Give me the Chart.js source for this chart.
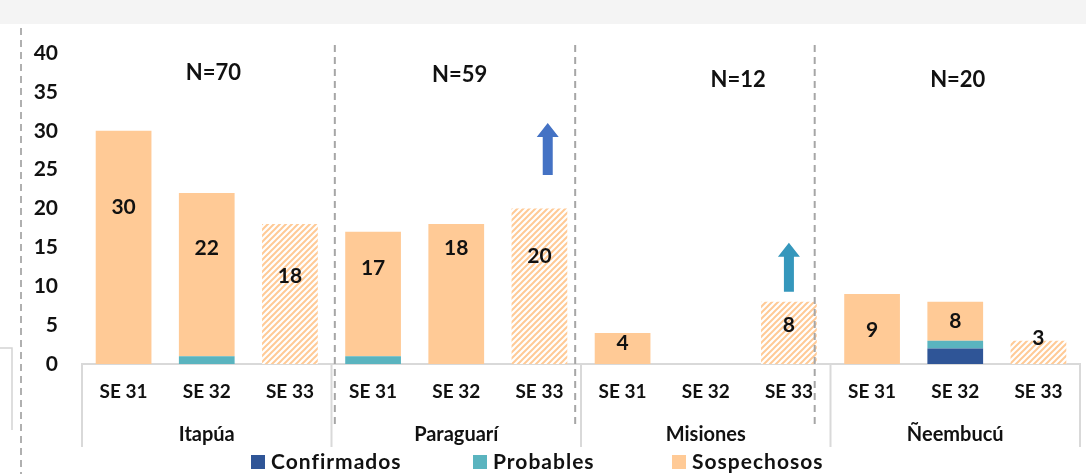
<!DOCTYPE html>
<html>
<head>
<meta charset="utf-8">
<script src="https://cdn.jsdelivr.net/npm/chart.js@4"></script>
<style>
  html, body { margin: 0; padding: 0; background: #fff; }
  #wrap { width: 1086px; height: 474px; }
</style>
</head>
<body>
<div id="wrap"><canvas id="chart" width="1086" height="474"></canvas></div>
<script>
// --- data ---
const weeks = ['SE 31', 'SE 32', 'SE 33', 'SE 31', 'SE 32', 'SE 33', 'SE 31', 'SE 32', 'SE 33', 'SE 31', 'SE 32', 'SE 33'];
const groups = ['Itapúa', 'Paraguarí', 'Misiones', 'Ñeembucú'];
const groupN = ['N=70', 'N=59', 'N=12', 'N=20'];
const confirmados = [0, 0, 0, 0, 0, 0, 0, 0, 0, 0, 2, 0];
const probables = [0, 1, 0, 1, 0, 0, 0, 0, 0, 0, 1, 0];
const sospechosos = [30, 21, 18, 16, 18, 20, 4, 0, 8, 9, 5, 3];
const totals = [30, 22, 18, 17, 18, 20, 4, null, 8, 9, 8, 3];
// where each total label sits (y value units)
const labelAt = [20.1, 14.9, 11.3, 12.3, 14.9, 13.8, 2.7, null, 5.0, 4.4, 5.5, 3.3];
const yTicks = [0, 5, 10, 15, 20, 25, 30, 35, 40];

// N= labels: x in category units, y in value units
const nX = [1.08, 4.04, 7.39, 10.03];
const nY = [37.5, 37.2, 36.5, 36.5];
// arrows: category position, from value, to value
const arrows = [
  { x: 5.1, from: 24.3, to: 31.0, color: '#4472C4' },
  { x: 8.0, from: 9.3, to: 15.6, color: '#3597BC' }
];
// dashed dividers inside the plot (category units)
const dividers = [2.54, 5.43, 8.31];

const C_CONF = '#2F5597';
const C_PROB = '#5AB4BF';
const C_SOSP = '#FFCA96';
const FONT = 'Lato, "Open Sans", sans-serif';

function hatch() {
  const c = document.createElement('canvas');
  c.width = 6; c.height = 6;
  const g = c.getContext('2d');
  g.fillStyle = '#fff';
  g.fillRect(0, 0, 6, 6);
  g.strokeStyle = C_SOSP;
  g.lineWidth = 2;
  g.beginPath();
  g.moveTo(-1, 7); g.lineTo(7, -1);
  g.moveTo(-1, 1); g.lineTo(1, -1);
  g.moveTo(5, 7); g.lineTo(7, 5);
  g.stroke();
  return g.createPattern(c, 'repeat');
}
const hatchFill = hatch();
const fillFor = (solid) => (ctx) => (ctx.dataIndex % 3 === 2 ? hatchFill : solid);

const decor = {
  id: 'decor',
  beforeDraw(chart) {
    const ctx = chart.ctx;
    ctx.save();
    ctx.fillStyle = '#f4f4f4';
    ctx.fillRect(0, 0, chart.width, 24);
    // left dashed frame line
    ctx.strokeStyle = '#b0b0b0';
    ctx.lineWidth = 2;
    ctx.setLineDash([7, 5]);
    ctx.beginPath();
    ctx.moveTo(21, 28); ctx.lineTo(21, chart.height);
    ctx.stroke();
    ctx.setLineDash([]);
    // small box fragment on the far left
    ctx.strokeStyle = '#d4d4d4';
    ctx.lineWidth = 1.5;
    ctx.beginPath();
    ctx.moveTo(0, 348); ctx.lineTo(12, 348); ctx.lineTo(12, 430);
    ctx.stroke();
    ctx.restore();
  },
  afterDatasetsDraw(chart) {
    const ctx = chart.ctx;
    const xs = chart.scales.x, ys = chart.scales.y;
    ctx.save();

    // dashed dividers
    ctx.strokeStyle = '#a6a6a6';
    ctx.lineWidth = 2;
    ctx.setLineDash([7, 5]);
    dividers.forEach(v => {
      const x = xs.getPixelForValue(v);
      ctx.beginPath();
      ctx.moveTo(x, 45); ctx.lineTo(x, 425);
      ctx.stroke();
    });
    ctx.setLineDash([]);

    // group separators under the axis
    ctx.strokeStyle = '#d9d9d9';
    ctx.lineWidth = 2;
    [-0.5, 2.5, 5.5, 8.5, 11.5].forEach(v => {
      const x = xs.getPixelForValue(v);
      ctx.beginPath();
      ctx.moveTo(x, ys.bottom); ctx.lineTo(x, 447);
      ctx.stroke();
    });

    ctx.fillStyle = '#111';
    ctx.textAlign = 'center';
    ctx.textBaseline = 'middle';

    // totals
    ctx.font = 'bold 21px ' + FONT;
    totals.forEach((t, i) => {
      if (t === null) return;
      ctx.fillText(String(t), xs.getPixelForValue(i), ys.getPixelForValue(labelAt[i]));
    });

    // N labels
    ctx.font = 'bold 22px ' + FONT;
    groupN.forEach((n, i) => {
      ctx.fillText(n, xs.getPixelForValue(nX[i]), ys.getPixelForValue(nY[i]));
    });

    // group names
    ctx.font = 'bold 20px ' + FONT;
    groups.forEach((g, i) => {
      ctx.fillText(g, xs.getPixelForValue(i * 3 + 1), 435);
    });

    // arrows
    arrows.forEach(a => {
      const x = xs.getPixelForValue(a.x);
      const yb = ys.getPixelForValue(a.from);
      const yt = ys.getPixelForValue(a.to);
      const head = 14, sw = 5, hw = 11;
      ctx.fillStyle = a.color;
      ctx.beginPath();
      ctx.moveTo(x - sw, yb);
      ctx.lineTo(x - sw, yt + head);
      ctx.lineTo(x - hw, yt + head);
      ctx.lineTo(x, yt);
      ctx.lineTo(x + hw, yt + head);
      ctx.lineTo(x + sw, yt + head);
      ctx.lineTo(x + sw, yb);
      ctx.closePath();
      ctx.fill();
    });

    // legend
    const items = [
      { text: 'Confirmados', color: C_CONF, x: 251 },
      { text: 'Probables', color: C_PROB, x: 473 },
      { text: 'Sospechosos', color: C_SOSP, x: 672 }
    ];
    ctx.font = 'bold 21px ' + FONT;
    ctx.letterSpacing = '1px';
    ctx.textAlign = 'left';
    items.forEach(it => {
      ctx.fillStyle = it.color;
      ctx.fillRect(it.x, 455, 14, 14);
      ctx.fillStyle = '#111';
      ctx.fillText(it.text, it.x + 20, 462);
    });
    ctx.restore();
  }
};

new Chart(document.getElementById('chart'), {
  type: 'bar',
  data: {
    labels: weeks,
    datasets: [
      { label: 'Confirmados', data: confirmados, backgroundColor: C_CONF },
      { label: 'Probables', data: probables, backgroundColor: fillFor(C_PROB) },
      { label: 'Sospechosos', data: sospechosos, backgroundColor: fillFor(C_SOSP) }
    ]
  },
  options: {
    responsive: false,
    animation: false,
    devicePixelRatio: 1,
    layout: { padding: { top: 53, left: 20, right: 6, bottom: 0 } },
    datasets: { bar: { categoryPercentage: 1, barPercentage: 0.67 } },
    plugins: { legend: { display: false }, tooltip: { enabled: false } },
    scales: {
      x: {
        stacked: true,
        grid: { display: false, drawTicks: false },
        border: { color: '#d9d9d9', width: 2 },
        ticks: { color: '#111', font: { family: FONT, size: 19, weight: 'bold' }, padding: 16, maxRotation: 0, autoSkip: false },
        afterFit: (s) => { s.height = 110; }
      },
      y: {
        stacked: true,
        min: 0,
        max: 40,
        afterBuildTicks: (s) => { s.ticks = yTicks.map(v => ({ value: v })); },
        grid: { display: false, drawTicks: false },
        border: { display: false },
        ticks: { color: '#111', font: { family: FONT, size: 21, weight: 'bold' }, padding: 24 },
        afterFit: (s) => { s.width = 62; }
      }
    }
  },
  plugins: [decor]
});
</script>
</body>
</html>
